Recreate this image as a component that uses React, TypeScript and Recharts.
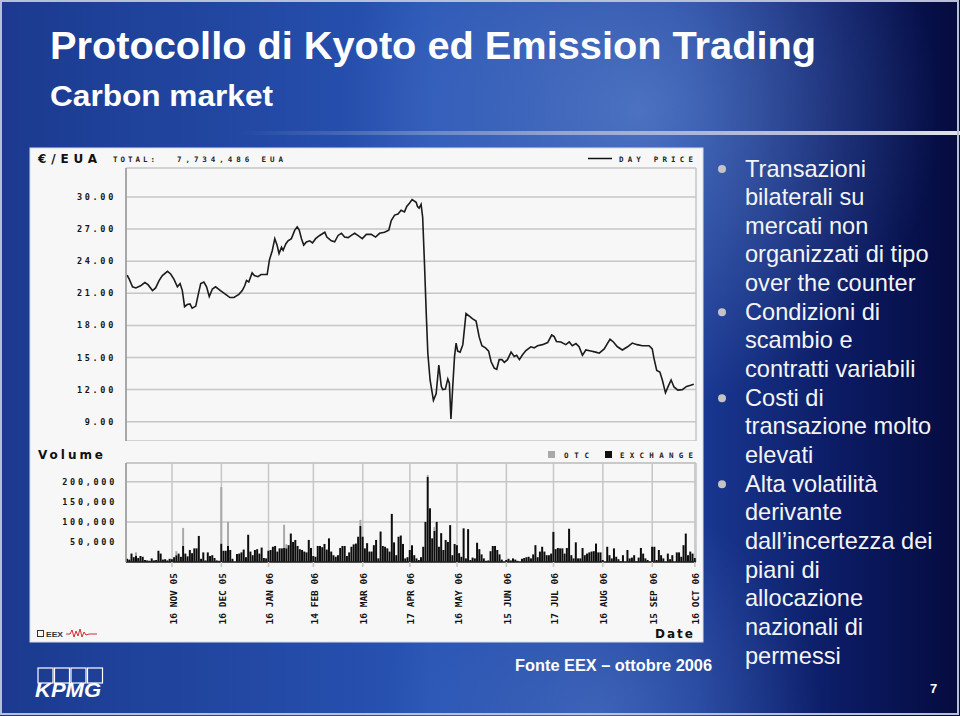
import React from 'react'
import {
  LineChart, Line, ComposedChart, Bar,
  XAxis, YAxis, CartesianGrid, ReferenceLine,
} from 'recharts'

const PIXEL_FONT = '"DejaVu Sans Mono", monospace'
const HEAVY = '"DejaVu Sans", sans-serif'
const SANS = '"Liberation Sans", Arial, sans-serif'
const NARROW = '"Liberation Sans Narrow", "Liberation Sans", Arial, sans-serif'
const GRID = '#c6c6c6'

// x axis = trading session index (Oct 2005 .. Oct 2006)
const sessionDomain = [-0.5, 253.5]
const dateTickSessions = [20, 42, 63, 83, 105, 126, 147, 169, 190, 212, 234, 253]
const dateTickLabels = [
  '16 NOV 05', '16 DEC 05', '16 JAN 06', '14 FEB 06', '16 MAR 06', '17 APR 06',
  '16 MAY 06', '15 JUN 06', '17 JUL 06', '16 AUG 06', '15 SEP 06', '16 OCT 06',
]

const priceTicks = [9, 12, 15, 18, 21, 24, 27, 30]
const priceDomain = [7.2, 32.7]

// day price, €/EUA
const priceSessions = [
  0, 1, 2.4, 3.9, 6, 7.9, 9.3, 11.3, 12.7, 14.3,
  15.7, 18, 19.4, 20.9, 22.4, 23.6, 24.6, 25.6, 26.8, 28,
  29, 30.6, 31.6, 32.8, 34.2, 35.4, 36.6, 38, 39.4, 41.6,
  43.9, 45.8, 47.6, 49.8, 51.3, 52.4, 53.2, 54.2, 55.7, 56.7,
  58.3, 59.7, 62.4, 63.4, 64.7, 65.8, 66.8, 67.7, 68.8, 69.5,
  70.7, 71.7, 73.2, 74.7, 75.8, 76.7, 77.7, 78.7, 79.9, 81.4,
  82.6, 84, 85.8, 88.1, 89, 91, 92.5, 94, 95.5, 96.9,
  98.5, 99.9, 101.4, 102.8, 104.8, 106.6, 108.8, 110.7, 112.5, 114.7,
  116.6, 117.7, 119.2, 120.7, 122.1, 123.6, 124.6, 125.8, 127, 128.8,
  129.4, 130.1, 131, 131.7, 132.5, 133.3, 134, 135, 136.5, 137.7,
  138.9, 140, 140.6, 141.8, 142.9, 143.6, 144.3, 145.1, 145.9, 146.6,
  147.3, 148.4, 149.6, 151, 152.2, 154, 155.5, 156.9, 158.1, 159.7,
  161.1, 162.2, 163.6, 164.7, 165.8, 167, 168.1, 169.5, 171.1, 172.5,
  173.6, 174.8, 176.2, 177.7, 179.9, 181.4, 182.9, 185.1, 187.4, 189.2,
  190.3, 191.3, 193.3, 195.5, 197, 198.4, 200, 201.4, 202.9, 204.4,
  206.6, 208.8, 210.4, 212.6, 214, 215.2, 216.7, 218.5, 220.7, 223,
  225.1, 227.3, 229.6, 232.6, 234, 234.8, 236, 237.4, 238.5, 239.9,
  241, 242.4, 243.7, 245.4, 247.4, 249.3, 251.1, 252.5,
]
const priceValues = [
  22.7, 22.3, 21.6, 21.5, 21.7, 22.0, 21.8, 21.25, 21.5, 22.2,
  22.65, 23.05, 22.8, 22.3, 21.6, 21.9, 21.25, 19.75, 19.95, 20.0,
  19.6, 19.8, 20.8, 21.9, 22.05, 21.6, 20.7, 21.4, 21.6, 21.25,
  20.9, 20.6, 20.6, 20.9, 21.25, 21.7, 22.2, 22.05, 22.9, 22.65,
  22.55, 22.75, 22.75, 24.1, 25.0, 26.1, 25.5, 24.7, 25.3, 25.0,
  25.6, 25.9, 26.1, 26.9, 27.2, 26.9, 26.1, 25.5, 25.8, 25.9,
  25.7, 26.1, 26.4, 26.7, 26.25, 25.9, 25.8, 26.4, 26.6, 26.25,
  26.2, 26.4, 26.6, 26.4, 26.1, 26.5, 26.5, 26.25, 26.6, 26.7,
  26.9, 27.8, 28.3, 28.4, 28.75, 28.6, 29.1, 29.4, 29.75, 29.5,
  29.1, 28.95, 29.3, 28.1, 23.8, 19.1, 15.4, 12.9, 11.0, 11.6,
  14.3, 12.3, 12.0, 12.05, 13.0, 12.6, 9.25, 12.3, 15.1, 16.35,
  15.6, 15.5, 16.2, 19.1, 18.9, 18.6, 18.4, 16.9, 16.1, 15.9,
  15.6, 14.6, 14.0, 13.9, 14.8, 14.8, 14.55, 14.8, 15.5, 15.1,
  15.2, 14.8, 15.25, 15.65, 16.0, 15.9, 16.1, 16.2, 16.4, 17.1,
  16.95, 16.5, 16.45, 16.2, 16.45, 16.1, 16.3, 16.0, 15.2, 15.7,
  15.6, 15.5, 15.4, 15.8, 16.3, 16.7, 16.45, 16.0, 15.7, 16.0,
  16.35, 16.2, 16.1, 16.1, 15.8, 14.9, 13.8, 13.65, 12.9, 11.7,
  12.25, 12.9, 12.25, 11.95, 12.0, 12.3, 12.4, 12.5,
]

// volume, thousand EUA per session
const volumeTicks = [50, 100, 150, 200]
const volumeDomain = [0, 247]
const exchangeVolume = [
  8, 6, 21, 12, 16, 10, 15, 13, 5, 4,
  3, 9, 4, 5, 28, 21, 6, 7, 4, 8,
  7, 12, 17, 21, 13, 40, 21, 14, 30, 22,
  34, 34, 65, 8, 24, 4, 24, 15, 17, 10,
  4, 3, 46, 28, 28, 40, 30, 8, 0, 20,
  21, 24, 31, 12, 68, 26, 17, 30, 32, 21,
  36, 10, 9, 28, 30, 38, 40, 26, 34, 34,
  35, 34, 42, 71, 50, 55, 40, 32, 30, 26,
  24, 55, 35, 15, 13, 40, 40, 37, 45, 31,
  59, 26, 17, 13, 17, 35, 40, 40, 15, 24,
  38, 44, 46, 63, 90, 63, 34, 47, 26, 26,
  42, 55, 9, 76, 40, 38, 34, 26, 120, 49,
  17, 63, 66, 45, 9, 12, 30, 42, 17, 9,
  5, 12, 38, 100, 212, 134, 59, 78, 100, 38,
  72, 30, 55, 50, 92, 17, 45, 42, 22, 13,
  84, 9, 82, 5, 11, 9, 48, 32, 19, 9,
  3, 4, 27, 40, 40, 30, 19, 6, 0, 5,
  8, 4, 9, 6, 3, 0, 8, 10, 12, 13,
  9, 19, 42, 12, 26, 38, 26, 17, 17, 21,
  75, 32, 35, 34, 34, 21, 35, 83, 17, 9,
  49, 9, 9, 35, 17, 21, 24, 26, 27, 46,
  24, 24, 5, 0, 38, 17, 9, 34, 13, 7,
  2, 17, 0, 30, 9, 11, 17, 2, 11, 35,
  21, 9, 5, 0, 38, 38, 5, 30, 17, 9,
  0, 21, 7, 17, 0, 24, 24, 13, 42, 71,
  17, 26, 21, 10,
]
const otcSessions = [4, 22, 25, 42, 45, 70, 71, 104, 134, 137]
const otcVolume = [8, 10, 45, 141, 60, 58, 10, 15, 5, 9]

const bullets = [
  ['Transazioni', 'bilaterali su', 'mercati non', 'organizzati di tipo', 'over the counter'],
  ['Condizioni di', 'scambio e', 'contratti variabili'],
  ['Costi di', 'transazione molto', 'elevati'],
  ['Alta volatilità', 'derivante', 'dall’incertezza dei', 'piani di', 'allocazione', 'nazionali di', 'permessi'],
]

const priceData = priceSessions.map((s, i) => ({ s, price: priceValues[i] }))
const otcBySession = new Map(otcSessions.map((s, i) => [s, otcVolume[i]]))
const volumeData = exchangeVolume.map((v, s) => ({ s, exchange: v, otc: otcBySession.get(s) ?? 0 }))

const axisTick = {
  fontFamily: PIXEL_FONT, fontSize: 8.5, fontWeight: 'bold', fill: '#151515', letterSpacing: 2.7,
}

function DateTick({ x, y, payload }: any) {
  const i = dateTickSessions.indexOf(payload.value)
  return (
    <text
      transform={`translate(${x + 4.5},${y + 6}) rotate(-90)`}
      textAnchor="end"
      fontFamily={PIXEL_FONT}
      fontWeight="bold"
      fontSize={9.5}
      fill="#111"
    >
      {dateTickLabels[i]}
    </text>
  )
}

function Background() {
  return (
    <svg width={960} height={716} style={{ position: 'absolute', left: 0, top: 0 }}>
      <defs>
        <linearGradient id="bgH" x1="0" y1="0" x2="1" y2="0">
          <stop offset="0" stopColor="#1b3a8f" />
          <stop offset="0.45" stopColor="#2853b3" />
          <stop offset="0.72" stopColor="#1a3a95" />
          <stop offset="0.88" stopColor="#0b1a62" />
          <stop offset="1" stopColor="#040b3e" />
        </linearGradient>
        <radialGradient id="glowTop" cx="640" cy="110" r="300" gradientUnits="userSpaceOnUse">
          <stop offset="0" stopColor="#7aa4e6" stopOpacity="0.5" />
          <stop offset="1" stopColor="#7aa4e6" stopOpacity="0" />
        </radialGradient>
        <radialGradient id="glowBottom" cx="600" cy="716" r="220" gradientUnits="userSpaceOnUse">
          <stop offset="0" stopColor="#6a94dc" stopOpacity="0.4" />
          <stop offset="1" stopColor="#6a94dc" stopOpacity="0" />
        </radialGradient>
        <linearGradient id="rule" x1="0" y1="0" x2="1" y2="0">
          <stop offset="0" stopColor="#c8cfe0" stopOpacity="0" />
          <stop offset="0.45" stopColor="#c8cfe0" stopOpacity="0.6" />
          <stop offset="1" stopColor="#eceef4" stopOpacity="0.95" />
        </linearGradient>
      </defs>
      <rect x={0} y={0} width={960} height={716} fill="url(#bgH)" />
      <rect x={0} y={0} width={960} height={716} fill="url(#glowTop)" />
      <rect x={0} y={0} width={960} height={716} fill="url(#glowBottom)" />
      <rect x={240} y={131} width={720} height={4} fill="url(#rule)" />
      <rect x={1} y={1} width={957} height={713} fill="none" stroke="#b8c0d8" strokeWidth={2} />

      <text x={50} y={59} fill="#ffffff" fontFamily={NARROW} fontWeight="bold" fontSize={38}
        textLength={766} lengthAdjust="spacingAndGlyphs">
        Protocollo di Kyoto ed Emission Trading
      </text>
      <text x={50} y={106} fill="#ffffff" fontFamily={NARROW} fontWeight="bold" fontSize={29}
        textLength={223} lengthAdjust="spacingAndGlyphs">
        Carbon market
      </text>

      <rect x={30} y={148} width={673} height={494} fill="#f7f7f7" stroke="#d8dbe4" strokeWidth={1} />
    </svg>
  )
}

function SlideText() {
  let line = 0
  const rows: React.ReactNode[] = []
  bullets.forEach((group, g) => {
    group.forEach((t, k) => {
      const base = 176.5 + line * 28.65
      if (k === 0) rows.push(<circle key={`d${g}`} cx={722} cy={base - 7.5} r={4} fill="#c4c4c4" />)
      rows.push(
        <text key={`t${line}`} x={745} y={base} fill="#f4f4f4" fontFamily={SANS} fontSize={23.6}>{t}</text>,
      )
      line++
    })
  })
  return (
    <svg width={960} height={716} style={{ position: 'absolute', left: 0, top: 0, pointerEvents: 'none' }}>
      {rows}

      {/* chart panel labels */}
      <text x={38} y={163} fontFamily={HEAVY} fontWeight="bold" fontSize={12} fill="#111"
        textLength={59} lengthAdjust="spacing">€/EUA</text>
      <text x={113} y={162} fontFamily={PIXEL_FONT} fontWeight="bold" fontSize={7.5} fill="#222"
        textLength={42} lengthAdjust="spacing">TOTAL:</text>
      <text x={177} y={162} fontFamily={PIXEL_FONT} fontWeight="bold" fontSize={7.5} fill="#222"
        textLength={106} lengthAdjust="spacing">7,734,486 EUA</text>
      <line x1={588} y1={158.5} x2={612} y2={158.5} stroke="#111" strokeWidth={1.5} />
      <text x={619} y={161.5} fontFamily={PIXEL_FONT} fontWeight="bold" fontSize={7.5} fill="#222"
        textLength={74} lengthAdjust="spacing">DAY PRICE</text>

      <text x={38} y={459} fontFamily={HEAVY} fontWeight="bold" fontSize={12} fill="#111"
        textLength={65} lengthAdjust="spacing">Volume</text>
      <rect x={548} y={451} width={7} height={7} fill="#a9a9a9" />
      <text x={564} y={458} fontFamily={PIXEL_FONT} fontWeight="bold" fontSize={7.5} fill="#222"
        textLength={25} lengthAdjust="spacing">OTC</text>
      <rect x={605} y={451} width={7} height={7} fill="#111" />
      <text x={620} y={458} fontFamily={PIXEL_FONT} fontWeight="bold" fontSize={7.5} fill="#222"
        textLength={73} lengthAdjust="spacing">EXCHANGE</text>

      <text x={655} y={638} fontFamily={HEAVY} fontWeight="bold" fontSize={12} fill="#111"
        textLength={38} lengthAdjust="spacing">Date</text>
      <rect x={37.5} y={630.5} width={6} height={6} fill="none" stroke="#333" strokeWidth={1} />
      <text x={46} y={637} fontFamily={SANS} fontWeight="bold" fontSize={8} fill="#333"
        textLength={17} lengthAdjust="spacingAndGlyphs">EEX</text>
      <polyline points="66,634 70,634 72,630 74,637 76,631 78,636 80,629 82,637 84,632 86,635 89,634 97,634"
        fill="none" stroke="#d03030" strokeWidth={1} />

      {/* footer */}
      <text x={515} y={671} fill="#ffffff" fontFamily={NARROW} fontWeight="bold" fontSize={16}
        textLength={197} lengthAdjust="spacingAndGlyphs">Fonte EEX – ottobre 2006</text>
      {[0, 1, 2, 3].map(i => (
        <rect key={i} x={38 + i * 16.5} y={668} width={15} height={15} fill="none" stroke="#ffffff" strokeWidth={1.2} />
      ))}
      <text x={35} y={697} fill="#ffffff" fontFamily={SANS} fontStyle="italic" fontWeight="bold" fontSize={20}
        textLength={66} lengthAdjust="spacingAndGlyphs">KPMG</text>
      <text x={930} y={693} fill="#ffffff" fontFamily={SANS} fontWeight="bold" fontSize={13}>7</text>
    </svg>
  )
}

export default function App() {
  return (
    <div style={{ position: 'absolute', left: 0, top: 0, width: 960, height: 716, overflow: 'hidden' }}>
      <Background />

      <div style={{ position: 'absolute', left: 30, top: 148 }}>
        <LineChart width={673} height={293} data={priceData} margin={{ top: 20, right: 7, bottom: 0, left: 0 }}>
          <CartesianGrid stroke={GRID} strokeWidth={1.5} />
          <XAxis
            type="number" dataKey="s" domain={sessionDomain} ticks={dateTickSessions}
            allowDataOverflow height={0} tick={false} tickLine={false}
            axisLine={{ stroke: GRID, strokeWidth: 1.5 }}
          />
          <YAxis
            type="number" domain={priceDomain} ticks={priceTicks} allowDataOverflow width={96}
            tickFormatter={v => v.toFixed(2)} tick={axisTick} tickLine={false} tickSize={0} tickMargin={10}
            axisLine={{ stroke: '#9a9a9a', strokeWidth: 1.5 }}
          />
          <Line
            type="linear" dataKey="price" stroke="#1c1c1c" strokeWidth={1.6}
            dot={false} isAnimationActive={false}
          />
        </LineChart>
      </div>

      <div style={{ position: 'absolute', left: 30, top: 445 }}>
        <ComposedChart width={673} height={196} data={volumeData} margin={{ top: 18, right: 7, bottom: 0, left: 0 }}>
          <CartesianGrid stroke={GRID} strokeWidth={1.5} />
          <ReferenceLine y={volumeDomain[1]} stroke={GRID} strokeWidth={1.5} ifOverflow="visible" />
          <XAxis
            type="number" dataKey="s" domain={sessionDomain} ticks={dateTickSessions} interval={0}
            allowDataOverflow height={79} tick={<DateTick />} tickSize={5} tickMargin={0}
            tickLine={{ stroke: GRID, strokeWidth: 1.5 }}
            axisLine={{ stroke: '#222', strokeWidth: 1.5 }}
          />
          <YAxis
            type="number" domain={volumeDomain} ticks={volumeTicks} allowDataOverflow width={96}
            tickFormatter={v => (v * 1000).toLocaleString('en-US')} tick={axisTick}
            tickLine={false} tickSize={0} tickMargin={9}
            axisLine={{ stroke: '#9a9a9a', strokeWidth: 1.5 }}
          />
          <Bar dataKey="exchange" stackId="v" fill="#0d0d0d" barSize={2} isAnimationActive={false} />
          <Bar dataKey="otc" stackId="v" fill="#a9a9a9" barSize={2} isAnimationActive={false} />
        </ComposedChart>
      </div>

      <SlideText />
    </div>
  )
}
